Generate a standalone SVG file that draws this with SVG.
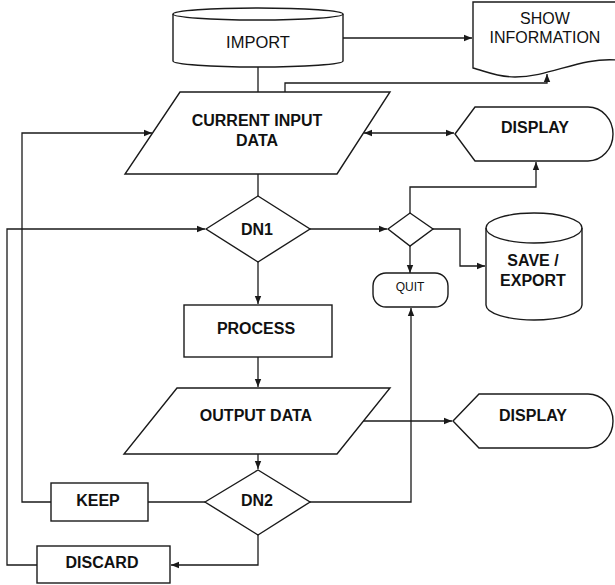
<svg xmlns="http://www.w3.org/2000/svg" width="615" height="585" viewBox="0 0 615 585">
<defs>
<marker id="ah" markerUnits="userSpaceOnUse" markerWidth="10" markerHeight="8" refX="8" refY="4" orient="auto-start-reverse">
<path d="M0,0.8 L8,4 L0,7.2 Z" fill="#1a1a1a"/>
</marker>
<style>
.s{fill:#fff;stroke:#1a1a1a;stroke-width:1.4}
.c{fill:none;stroke:#1a1a1a;stroke-width:1.3}
.a{marker-end:url(#ah)}
.b{font-family:"Liberation Sans",Arial,sans-serif;font-weight:bold;font-size:16px;fill:#111;text-anchor:middle}
.r{font-family:"Liberation Sans",Arial,sans-serif;font-size:16px;fill:#111;text-anchor:middle}
</style>
</defs>
<rect width="615" height="585" fill="#fff"/>

<g id="connectors">
<path class="c a" d="M343,38 H472"/>
<path class="c" d="M258,67 V92"/>
<path class="c a" d="M285,92 V83 H547 V74"/>
<path class="c a" d="M364,133 H454" marker-start="url(#ah)"/>
<path class="c" d="M258,174 V196"/>
<path class="c a" d="M310,229 H387"/>
<path class="c a" d="M410,213 V187 H536 V162"/>
<path class="c a" d="M433,229 H460 V266 H485"/>
<path class="c a" d="M410,246 V273"/>
<path class="c a" d="M258,262 V304"/>
<path class="c a" d="M258,357 V387"/>
<path class="c a" d="M363,421 H452"/>
<path class="c a" d="M258,454 V469"/>
<path class="c" d="M205,502 H148"/>
<path class="c a" d="M51,502 H22 V133 H152"/>
<path class="c a" d="M258,535 V565 H171"/>
<path class="c a" d="M37,565 H7 V229 H205"/>
<path class="c a" d="M310,502 H411 V308"/>
</g>

<g id="import">
<path class="s" d="M173,14 V61 A85,6 0 0 0 343,61 V14 A85,6 0 0 0 173,14 Z"/>
<path class="c" d="M173,14 A85,6 0 0 0 343,14"/>
<text class="r" x="258" y="48" style="font-size:16.5px">IMPORT</text>
</g>

<g id="show-information">
<path class="s" d="M473,2 H617 V60 C580,57 550,77 515,77 C497,77 485,71 473,68 Z"/>
<text class="r" x="545" y="24">SHOW</text>
<text class="r" x="545" y="43">INFORMATION</text>
</g>

<g id="current-input-data">
<path class="s" d="M180,92 H390 L337,174 H125 Z"/>
<text class="b" x="257" y="126">CURRENT INPUT</text>
<text class="b" x="257" y="146">DATA</text>
</g>

<g id="display1">
<path class="s" d="M455,134 L475,107 H588 A25,27 0 0 1 588,161 H475 Z"/>
<text class="b" x="535" y="133">DISPLAY</text>
</g>

<g id="dn1">
<path class="s" d="M206,229 L258,196 L310,229 L258,262 Z"/>
<text class="b" x="257" y="235">DN1</text>
</g>

<g id="small-decision">
<path class="s" d="M388,229 L410,213 L433,229 L410,246 Z"/>
</g>

<g id="quit">
<rect class="s" x="373" y="273" width="75" height="34" rx="13" ry="13"/>
<text class="r" x="410" y="291" style="font-size:12px">QUIT</text>
</g>

<g id="save-export">
<path class="s" d="M486,228 V305 A48,15 0 0 0 582,305 V228 A48,15 0 0 0 486,228 Z"/>
<path class="c" d="M486,228 A48,15 0 0 0 582,228"/>
<text class="b" x="533" y="266">SAVE /</text>
<text class="b" x="533" y="286">EXPORT</text>
</g>

<g id="process">
<rect class="s" x="184" y="305" width="148" height="52"/>
<text class="b" x="256" y="334">PROCESS</text>
</g>

<g id="output-data">
<path class="s" d="M177,388 H390 L337,454 H124 Z"/>
<text class="b" x="256" y="421">OUTPUT DATA</text>
</g>

<g id="display2">
<path class="s" d="M453,421 L479,394 H588 A25,27 0 0 1 588,448 H479 Z"/>
<text class="b" x="533" y="421">DISPLAY</text>
</g>

<g id="dn2">
<path class="s" d="M205,502 L258,470 L310,502 L258,535 Z"/>
<text class="b" x="257" y="506">DN2</text>
</g>

<g id="keep">
<rect class="s" x="51" y="483" width="97" height="38"/>
<text class="b" x="98" y="506">KEEP</text>
</g>

<g id="discard">
<rect class="s" x="37" y="546" width="133" height="37"/>
<text class="b" x="102" y="568">DISCARD</text>
</g>
</svg>
